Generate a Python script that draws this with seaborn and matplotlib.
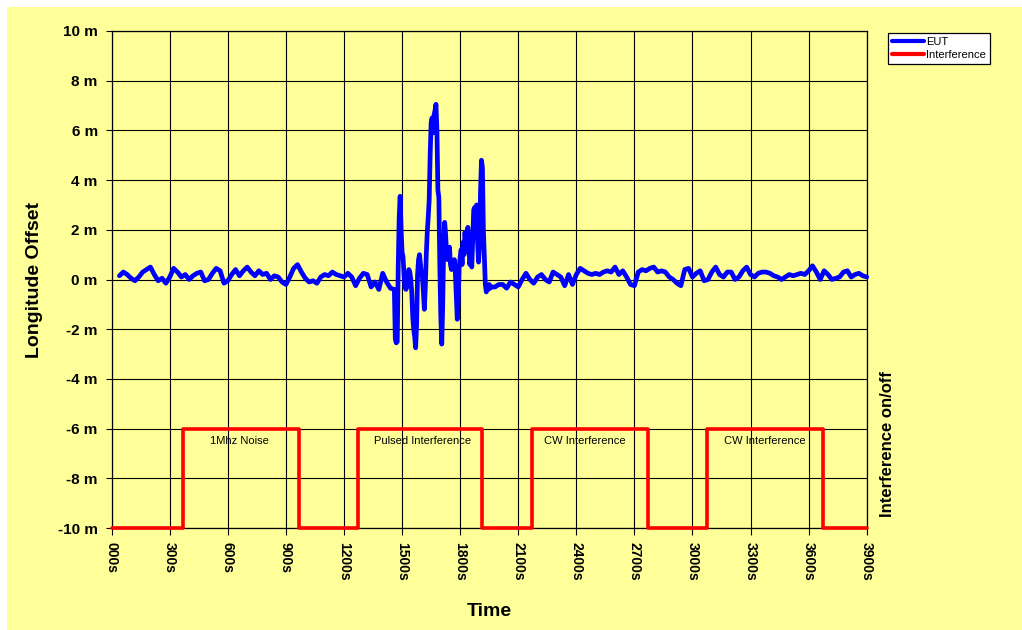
import numpy as np
import pandas as pd
import matplotlib
matplotlib.use("Agg")
import matplotlib.pyplot as plt
import seaborn as sns
from matplotlib.patches import Rectangle
from matplotlib.ticker import FuncFormatter

# ---------------- data ----------------
# EUT longitude offset (m), sampled every 20 s from 40 s to 1460 s
eut_pre = [0.15, 0.3, 0.2, 0.05, -0.05, 0.1, 0.3, 0.4, 0.5, 0.2,
           -0.05, 0.05, -0.15, 0.1, 0.45, 0.3, 0.1, 0.2, 0.0, 0.15,
           0.25, 0.3, -0.05, 0.0, 0.25, 0.45, 0.35, -0.15, -0.05, 0.2,
           0.4, 0.15, 0.35, 0.5, 0.3, 0.15, 0.35, 0.2, 0.25, 0.0,
           0.15, 0.1, -0.1, -0.2, 0.1, 0.45, 0.6, 0.3, 0.05, -0.1,
           -0.05, -0.15, 0.1, 0.2, 0.15, 0.3, 0.2, 0.15, 0.1, 0.25,
           0.1, -0.25, 0.05, 0.25, 0.2, -0.3, -0.1, -0.4, 0.25, -0.1,
           -0.35, -0.4]
# EUT during pulsed interference, every 5 s from 1465 s to 1960 s
eut_burst = [-2.4, -2.55, -2.5, 0.5, 2.5, 3.35, 2.0, 1.1, 0.9, 0.2,
             -0.3, -0.4, -0.3, 0.1, 0.4, 0.3, 0.0, -0.5, -1.5, -2.0,
             -2.3, -2.75, -1.8, 0.2, 0.8, 1.0, 0.6, 0.2, 0.1, -0.5,
             -1.2, -0.3, 1.0, 1.9, 2.5, 3.2, 5.0, 6.3, 6.5, 5.9,
             6.6, 6.8, 7.05, 6.0, 3.6, 3.3, 0.5, -1.5, -2.6, -1.0,
             1.5, 2.3, 1.8, 1.0, 0.8, 1.1, 1.3, 0.6, 0.4, 0.7,
             0.5, 0.8, 0.3, -0.6, -1.6, -0.8, 0.5, 0.9, 1.2, 0.6,
             1.5, 1.0, 1.9, 1.2, 1.9, 2.1, 1.3, 0.6, 1.0, 0.5,
             1.6, 2.8, 2.9, 2.4, 3.0, 1.5, 0.7, 1.4, 3.5, 4.8,
             4.5, 2.0, 0.9, -0.2, -0.5, -0.3, -0.4, -0.2, -0.35, -0.3]
# EUT after, every 20 s from 1980 s to 3900 s
eut_post = [-0.3, -0.2, -0.2, -0.35, -0.1, -0.2, -0.3, 0.0, 0.25, 0.0,
            -0.15, 0.1, 0.2, 0.0, -0.1, 0.3, 0.2, 0.1, -0.25, 0.2,
            -0.2, 0.2, 0.45, 0.35, 0.25, 0.2, 0.25, 0.2, 0.3, 0.35,
            0.3, 0.5, 0.2, 0.35, 0.1, -0.2, -0.25, 0.3, 0.4, 0.35,
            0.45, 0.5, 0.3, 0.35, 0.3, 0.1, 0.0, -0.15, -0.25, 0.4,
            0.45, 0.1, 0.25, 0.35, -0.05, 0.0, 0.3, 0.5, 0.2, 0.1,
            0.3, 0.3, 0.0, 0.1, 0.35, 0.5, 0.2, 0.1, 0.25, 0.3,
            0.3, 0.25, 0.15, 0.1, 0.0, 0.1, 0.2, 0.15, 0.2, 0.25,
            0.2, 0.35, 0.55, 0.3, 0.0, 0.35, 0.2, 0.0, 0.05, 0.1,
            0.3, 0.35, 0.1, 0.2, 0.25, 0.15, 0.1]

pre_t0, pre_dt = 40, 20
burst_t0, burst_dt = 1465, 5
post_t0, post_dt = 1980, 20

# Interference on/off (step, -6 = on, -10 = off)
intf_time = [0, 370, 970, 1270, 1915, 2170, 2772, 3073, 3675, 3900]
intf_state = [-10, -6, -10, -6, -10, -6, -10, -6, -10, -10]

annot_text = ["1Mhz Noise", "Pulsed Interference", "CW Interference", "CW Interference"]
annot_x = [661, 1607, 2445, 3375]
annot_y = -6.3

x_ticks = [0, 300, 600, 900, 1200, 1500, 1800, 2100, 2400, 2700, 3000, 3300, 3600, 3900]
x_tick_labels = ["000s", "300s", "600s", "900s", "1200s", "1500s", "1800s", "2100s",
                 "2400s", "2700s", "3000s", "3300s", "3600s", "3900s"]
y_ticks = [-10, -8, -6, -4, -2, 0, 2, 4, 6, 8, 10]

# --------------- build frames ---------------
eut_time = np.concatenate([
    pre_t0 + pre_dt * np.arange(len(eut_pre)),
    burst_t0 + burst_dt * np.arange(len(eut_burst)),
    post_t0 + post_dt * np.arange(len(eut_post)),
])
eut_vals = np.array(eut_pre + eut_burst + eut_post, dtype=float)
eut_df = pd.DataFrame({"Time": eut_time, "Offset": eut_vals})
intf_df = pd.DataFrame({"Time": intf_time, "State": intf_state})

# --------------- style ---------------
sns.set_style("ticks")
plt.rcParams["font.family"] = ["Liberation Sans", "DejaVu Sans"]
plt.rcParams["text.color"] = "black"
plt.rcParams["axes.labelcolor"] = "black"
plt.rcParams["xtick.color"] = "black"
plt.rcParams["ytick.color"] = "black"

YELLOW = "#FFFF99"
fig = plt.figure(figsize=(10.22, 6.30), dpi=100, facecolor="white")
fig.patches.append(Rectangle((7 / 1022, 0), 1 - 7 / 1022, 1 - 7 / 630,
                             transform=fig.transFigure, facecolor=YELLOW,
                             edgecolor="none", zorder=-10))

ax = fig.add_axes([111.7 / 1022, 1 - 528 / 630, 755 / 1022, 497 / 630])
ax.set_zorder(1)
ax.set_facecolor(YELLOW)

sns.lineplot(data=eut_df, x="Time", y="Offset", ax=ax, color="#0000FF",
             linewidth=3.4, estimator=None, sort=False, label="EUT",
             clip_on=False, zorder=5)
sns.lineplot(data=intf_df, x="Time", y="State", ax=ax, color="#FF0000",
             linewidth=2.6, estimator=None, sort=False, drawstyle="steps-post",
             label="Interference", clip_on=False, zorder=6)

ax.set_xlim(0, 3900)
ax.set_ylim(-10, 10)
ax.set_xticks(x_ticks)
ax.set_xticklabels(x_tick_labels, rotation=-90, fontsize=10, fontweight="bold",
                   ha="center", va="top", color="black")
ax.set_yticks(y_ticks)
ax.yaxis.set_major_formatter(FuncFormatter(lambda v, p: f"{int(round(v))} m"))
ax.tick_params(axis="y", direction="out", length=4, width=0.8, pad=6,
               colors="black", labelsize=11)
ax.tick_params(axis="x", direction="out", length=5, width=0.8, pad=5, colors="black")
for lab in ax.get_yticklabels():
    lab.set_fontweight("bold")

ax.grid(True, color="black", linewidth=0.8, zorder=1)
ax.set_axisbelow(True)
for s in ax.spines.values():
    s.set_visible(True)
    s.set_color("black")
    s.set_linewidth(0.9)

ax.set_xlabel("Time", fontsize=14, fontweight="bold", color="black")
ax.set_ylabel("Longitude Offset", fontsize=14, fontweight="bold", color="black")
ax.xaxis.set_label_coords(0.5, -0.15)
ax.yaxis.set_label_coords(-0.091, 0.5)

fig.text(888 / 1022, 1 - 444 / 630, "Interference on/off", rotation=90,
         fontsize=12, fontweight="bold", ha="center", va="center", color="black")

for txt, xv in zip(annot_text, annot_x):
    ax.text(xv, annot_y, txt, fontsize=8, ha="center", va="top", zorder=7,
            color="black")

leg = ax.legend(loc="upper left", bbox_to_anchor=(888 / 1022, 1 - 33 / 630),
                bbox_transform=fig.transFigure, frameon=True, fancybox=False,
                fontsize=8, handlelength=2.9, handletextpad=0.15,
                borderpad=0.35, labelspacing=0.3, borderaxespad=0)
leg.get_frame().set_edgecolor("black")
leg.get_frame().set_linewidth(0.9)
leg.get_frame().set_facecolor("white")
leg.get_frame().set_alpha(1)
for t in leg.get_texts():
    t.set_color("black")
for h in leg.get_lines():
    h.set_linewidth(3)

fig.savefig("out.png", dpi=100, facecolor="white")
